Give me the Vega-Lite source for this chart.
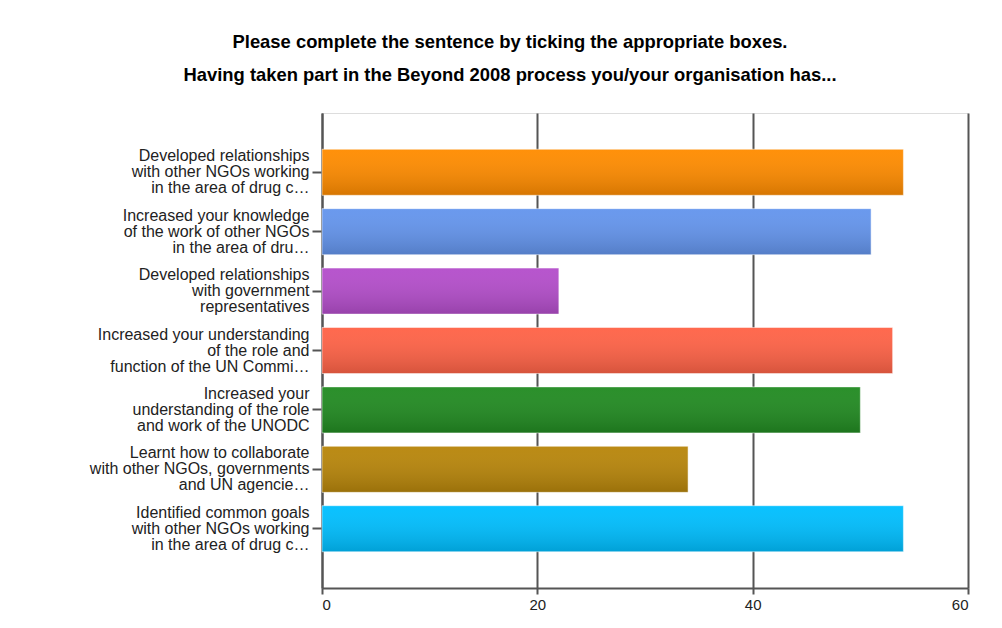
{
  "$schema": "https://vega.github.io/schema/vega-lite/v6.json",
  "width": 646,
  "height": 475,
  "autosize": {"type": "none"},
  "padding": {"left": 322, "top": 113, "right": 34, "bottom": 40},
  "background": "#ffffff",
  "title": {
    "text": ["Please complete the sentence by ticking the appropriate boxes.", "Having taken part in the Beyond 2008 process you/your organisation has..."],
    "font": "Liberation Sans",
    "fontSize": 18.4,
    "fontWeight": "bold",
    "color": "#000000",
    "lineHeight": 33,
    "anchor": "middle",
    "dx": -135,
    "offset": 29
  },
  "data": {
    "values": [
      {"item": "Developed relationships|with other NGOs working|in the area of drug c…", "count": 54},
      {"item": "Increased your knowledge|of the work of other NGOs|in the area of dru…", "count": 51},
      {"item": "Developed relationships|with government|representatives", "count": 22},
      {"item": "Increased your understanding|of the role and|function of the UN Commi…", "count": 53},
      {"item": "Increased your|understanding of the role|and work of the UNODC", "count": 50},
      {"item": "Learnt how to collaborate|with other NGOs, governments|and UN agencie…", "count": 34},
      {"item": "Identified common goals|with other NGOs working|in the area of drug c…", "count": 54}
    ]
  },
  "encoding": {
    "y": {
      "field": "item",
      "type": "nominal",
      "sort": null,
      "scale": {"paddingInner": 0.225, "paddingOuter": 0.61},
      "axis": {
        "title": null,
        "labelExpr": "split(datum.label, '|')",
        "labelFont": "Liberation Sans",
        "labelFontSize": 16,
        "labelColor": "#222222",
        "labelLineHeight": 16,
        "labelLimit": 0,
        "labelPadding": 3,
        "labelOffset": -16,
        "tickSize": 10,
        "tickColor": "#555555",
        "tickWidth": 2,
        "domainColor": "#555555",
        "domainWidth": 2,
        "grid": false
      }
    },
    "x": {
      "field": "count",
      "type": "quantitative",
      "scale": {"domain": [0, 60], "nice": false},
      "axis": {
        "title": null,
        "values": [0, 20, 40, 60],
        "grid": true,
        "gridColor": "#555555",
        "gridWidth": 2,
        "domainColor": "#555555",
        "domainWidth": 2,
        "tickSize": 6,
        "tickColor": "#555555",
        "tickWidth": 2,
        "labelFont": "Liberation Sans",
        "labelFontSize": 15,
        "labelColor": "#222222",
        "labelPadding": 3
      }
    }
  },
  "layer": [
    {
      "mark": {"type": "bar"},
      "encoding": {
        "color": {
          "field": "item",
          "type": "nominal",
          "legend": null,
          "scale": {
            "domain": [
              "Developed relationships|with other NGOs working|in the area of drug c…",
              "Increased your knowledge|of the work of other NGOs|in the area of dru…",
              "Developed relationships|with government|representatives",
              "Increased your understanding|of the role and|function of the UN Commi…",
              "Increased your|understanding of the role|and work of the UNODC",
              "Learnt how to collaborate|with other NGOs, governments|and UN agencie…",
              "Identified common goals|with other NGOs working|in the area of drug c…"
            ],
            "range": ["#ff8c00", "#6495ed", "#b44ecb", "#ff6347", "#228b22", "#b8860b", "#00bfff"]
          }
        }
      }
    },
    {
      "mark": {
        "type": "bar",
        "fill": {
          "gradient": "linear",
          "x1": 0, "y1": 0, "x2": 0, "y2": 1,
          "stops": [
            {"offset": 0, "color": "rgba(255,255,255,0.04)"},
            {"offset": 1, "color": "rgba(0,0,0,0.16)"}
          ]
        },
        "stroke": "#ffffff",
        "strokeOpacity": 0.5,
        "strokeWidth": 1
      }
    }
  ]
}
